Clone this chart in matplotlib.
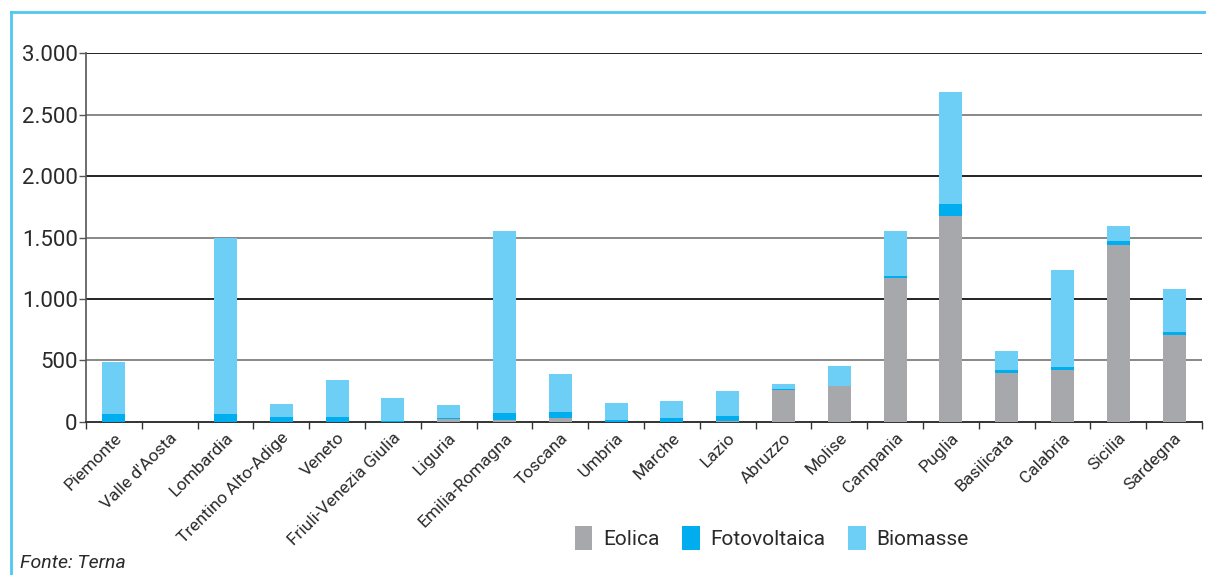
import matplotlib
matplotlib.use('Agg')
import matplotlib.pyplot as plt
import numpy as np
from matplotlib.lines import Line2D
from matplotlib.patches import Patch
from matplotlib.ticker import FuncFormatter, MultipleLocator

regions = ['Piemonte', "Valle d'Aosta", 'Lombardia', 'Trentino Alto-Adige', 'Veneto',
           'Friuli-Venezia Giulia', 'Liguria', 'Emilia-Romagna', 'Toscana', 'Umbria',
           'Marche', 'Lazio', 'Abruzzo', 'Molise', 'Campania', 'Puglia', 'Basilicata',
           'Calabria', 'Sicilia', 'Sardegna']
eolica = [3, 0, 0, 0, 0, 0, 24, 16, 35, 2, 3, 9, 260, 293, 1171, 1677, 398, 423, 1439, 707]
fotovoltaica = [62, 0, 65, 43, 43, 10, 11, 57, 46, 14, 32, 40, 8, 0, 16, 95, 25, 24, 33, 25]
biomasse = [425, 0, 1435, 103, 298, 185, 103, 1477, 309, 139, 136, 203, 41, 162, 366, 911, 154, 789, 121, 349]

series_names = ['Eolica', 'Fotovoltaica', 'Biomasse']
colors = ['#A7A8AC', '#00AEEF', '#6DCFF6']

FONT = ['Roboto', 'DejaVu Sans']
plt.rcParams['font.family'] = FONT
TEXT = '#2a2a2a'

fig = plt.figure(figsize=(12.06, 5.75), dpi=100)
ax = fig.add_axes([0.0713, 0.2661, 0.9254, 0.6417])

x = np.arange(len(regions))
bottom = np.zeros(len(regions))
for values, name, color in zip([eolica, fotovoltaica, biomasse], series_names, colors):
    ax.bar(x, values, width=0.41, bottom=bottom, color=color, label=name, zorder=3)
    bottom += np.array(values)

ax.set_xlim(-0.5, len(regions) - 0.5)
ax.set_ylim(0, 3000)

# alternating dark / grey horizontal rules
for y in range(500, 3001, 500):
    c = '#222222' if y % 1000 == 0 else '#888888'
    ax.axhline(y, color=c, linewidth=1.4, zorder=1)

ax.yaxis.set_major_locator(MultipleLocator(500))
ax.yaxis.set_major_formatter(FuncFormatter(lambda v, p: f'{int(v):,}'.replace(',', '.')))
ax.tick_params(axis='y', labelsize=16, labelcolor=TEXT, color='#555555',
               length=5, width=1, pad=1)

ax.set_xticks(np.arange(len(regions) + 1) - 0.5, minor=True)
ax.set_xticks(x)
ax.set_xticklabels(regions, rotation=45, ha='right', rotation_mode='anchor',
                   fontsize=12.5, color=TEXT)
ax.tick_params(axis='x', which='major', length=0, pad=6)
ax.tick_params(axis='x', which='minor', length=5, width=1, color='#333333')

for side in ['top', 'right']:
    ax.spines[side].set_visible(False)
ax.spines['left'].set_color('#555555')
ax.spines['bottom'].set_color('#333333')
ax.spines['left'].set_linewidth(1.2)
ax.spines['bottom'].set_linewidth(1.4)

handles = [Patch(facecolor=c, edgecolor='none') for c in colors]
fig.legend(handles, series_names, loc='center left',
           bbox_to_anchor=(556 / 1206, 1 - 538 / 575), ncol=3, frameon=False,
           handlelength=0.85, handleheight=1.45, handletextpad=0.5, columnspacing=1.1,
           prop={'family': FONT, 'size': 15}, labelcolor=TEXT)

fig.text(20 / 1206, 1 - 563 / 575, 'Fonte: Terna', fontsize=14, style='italic',
         color=TEXT, va='center', ha='left')

# light blue frame on the left and top
frame_color = '#4FC8F0'
fig.add_artist(Line2D([11 / 1206, 11 / 1206], [0, 1 - 12 / 575],
                      color=frame_color, linewidth=2, transform=fig.transFigure))
fig.add_artist(Line2D([11 / 1206, 1], [1 - 12 / 575, 1 - 12 / 575],
                      color=frame_color, linewidth=2, transform=fig.transFigure))

fig.savefig('out.png', dpi=100)
